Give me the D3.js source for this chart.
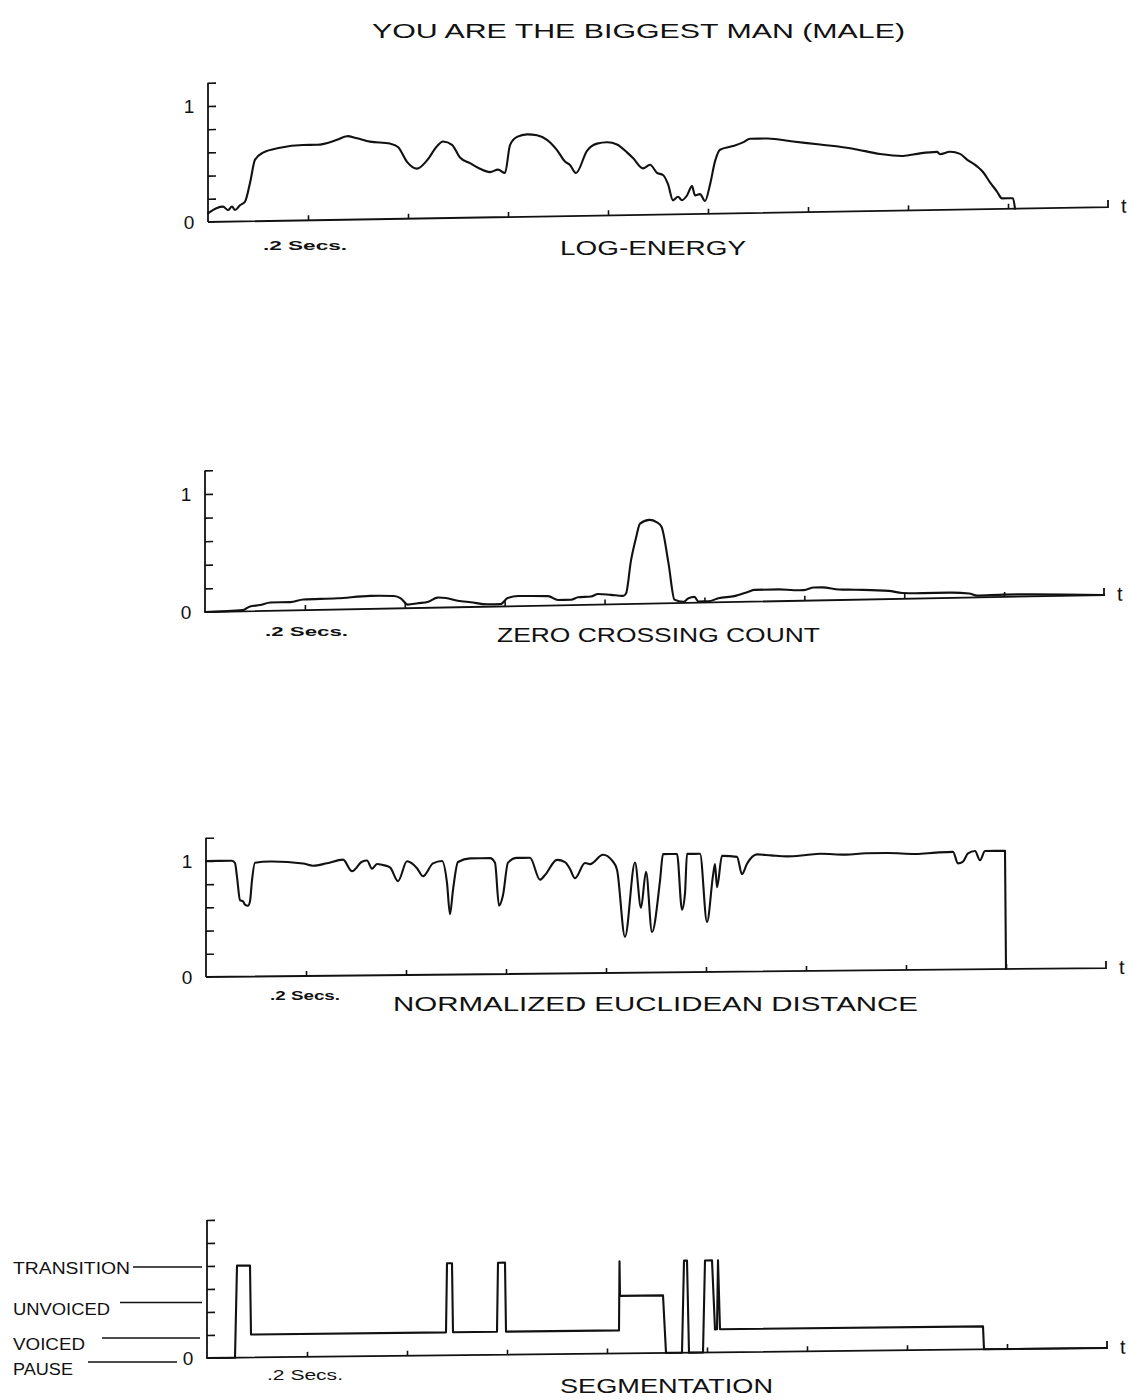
<!DOCTYPE html>
<html><head><meta charset="utf-8">
<script src="https://cdn.jsdelivr.net/npm/d3@7"></script>
<style>
body{margin:0;background:#fff}
svg{display:block}
text{font-family:"Liberation Sans",Arial,sans-serif;fill:#111}
</style>
</head><body>
<svg id="chart" width="1128" height="1400"></svg>
<script>
// ---------------- DATA ----------------
const chartTitle = "YOU ARE THE BIGGEST MAN (MALE)";
const panelTitles = ["LOG-ENERGY", "ZERO CROSSING COUNT", "NORMALIZED EUCLIDEAN DISTANCE", "SEGMENTATION"];
const timeUnitLabel = ".2 Secs.";
const timeAxisLabel = "t";
const timeDomain = [0, 1.8];
const timeTicks = [0.2, 0.4, 0.6, 0.8, 1.0, 1.2, 1.4, 1.6];
const valueDomain = [0, 1.2];
const valueTicks = [0.2, 0.4, 0.6, 0.8, 1.0, 1.2];
const valueTickLabels = [[0, "0"], [1, "1"]];
const segCategories = ["PAUSE", "VOICED", "UNVOICED", "TRANSITION"];
const segCategoryLevels = [0, 0.2, 0.5, 0.8];

// [time (s), value]
const logEnergy = [
 [0.000,0.075],[0.018,0.12],[0.030,0.13],[0.040,0.10],[0.048,0.13],[0.054,0.10],[0.064,0.14],[0.074,0.17],
 [0.084,0.33],[0.094,0.53],[0.110,0.59],[0.144,0.63],[0.190,0.65],[0.218,0.65],[0.258,0.69],[0.278,0.72],
 [0.298,0.70],[0.324,0.67],[0.364,0.65],[0.380,0.62],[0.398,0.49],[0.418,0.43],[0.438,0.50],[0.458,0.62],
 [0.470,0.66],[0.488,0.63],[0.504,0.52],[0.524,0.47],[0.544,0.42],[0.564,0.39],[0.580,0.41],[0.594,0.38],
 [0.604,0.62],[0.618,0.69],[0.638,0.71],[0.658,0.70],[0.678,0.66],[0.698,0.57],[0.714,0.47],[0.724,0.44],
 [0.736,0.37],[0.758,0.56],[0.778,0.62],[0.798,0.63],[0.818,0.61],[0.838,0.54],[0.850,0.49],[0.870,0.40],
 [0.884,0.43],[0.898,0.36],[0.910,0.34],[0.920,0.26],[0.930,0.12],[0.940,0.15],[0.948,0.12],[0.958,0.16],
 [0.968,0.24],[0.974,0.16],[0.984,0.17],[0.994,0.11],[1.004,0.25],[1.014,0.45],[1.024,0.55],[1.050,0.58],
 [1.070,0.61],[1.084,0.64],[1.118,0.64],[1.170,0.61],[1.224,0.58],[1.290,0.54],[1.344,0.49],[1.390,0.47],
 [1.424,0.49],[1.458,0.50],[1.464,0.48],[1.484,0.50],[1.504,0.48],[1.518,0.43],[1.538,0.37],[1.550,0.32],
 [1.564,0.23],[1.578,0.15],[1.588,0.09],[1.610,0.09],[1.614,0.0]
];
const zeroCrossing = [
 [0.000,0.00],[0.076,0.01],[0.090,0.04],[0.110,0.05],[0.131,0.07],[0.171,0.07],[0.197,0.09],[0.265,0.095],
 [0.331,0.11],[0.378,0.105],[0.392,0.085],[0.406,0.03],[0.426,0.04],[0.446,0.05],[0.466,0.085],[0.482,0.08],
 [0.506,0.055],[0.532,0.04],[0.566,0.02],[0.592,0.02],[0.606,0.07],[0.627,0.085],[0.687,0.08],[0.707,0.045],
 [0.733,0.045],[0.747,0.065],[0.773,0.07],[0.787,0.09],[0.813,0.08],[0.837,0.07],[0.843,0.09],[0.853,0.37],
 [0.863,0.56],[0.871,0.68],[0.890,0.71],[0.904,0.69],[0.914,0.65],[0.928,0.34],[0.940,0.03],[0.958,0.01],
 [0.968,0.04],[0.980,0.05],[0.988,0.01],[1.008,0.01],[1.028,0.035],[1.060,0.05],[1.088,0.085],[1.100,0.10],
 [1.149,0.10],[1.181,0.09],[1.199,0.09],[1.219,0.11],[1.235,0.11],[1.269,0.09],[1.301,0.085],[1.369,0.07],
 [1.396,0.05],[1.436,0.045],[1.490,0.045],[1.530,0.035],[1.546,0.015],[1.600,0.02],[1.800,0.0]
];
const euclidean = [
 [0.000,1.00],[0.052,1.00],[0.058,0.98],[0.062,0.86],[0.068,0.66],[0.074,0.65],[0.078,0.62],[0.084,0.61],
 [0.088,0.65],[0.092,0.83],[0.098,0.98],[0.128,0.99],[0.194,0.97],[0.214,0.95],[0.242,0.97],[0.274,1.00],
 [0.292,0.90],[0.312,0.98],[0.322,0.99],[0.332,0.92],[0.342,0.96],[0.354,0.95],[0.368,0.93],[0.384,0.81],
 [0.402,0.98],[0.422,0.92],[0.434,0.85],[0.454,0.96],[0.472,0.98],[0.482,0.79],[0.488,0.52],[0.494,0.73],
 [0.504,0.97],[0.528,1.00],[0.568,1.00],[0.578,0.96],[0.586,0.59],[0.594,0.68],[0.604,0.96],[0.622,1.00],
 [0.648,1.00],[0.668,0.81],[0.678,0.85],[0.702,0.98],[0.718,0.96],[0.728,0.90],[0.738,0.82],[0.758,0.95],
 [0.768,0.94],[0.794,1.02],[0.812,0.97],[0.822,0.89],[0.838,0.31],[0.858,0.95],[0.870,0.56],[0.880,0.87],
 [0.892,0.35],[0.908,0.79],[0.914,1.02],[0.942,1.02],[0.952,0.54],[0.958,0.68],[0.962,1.02],[0.988,1.02],
 [1.002,0.43],[1.014,0.83],[1.018,0.93],[1.022,0.73],[1.032,1.00],[1.062,0.99],[1.072,0.84],[1.082,0.93],
 [1.102,1.01],[1.130,1.00],[1.162,0.99],[1.200,1.00],[1.228,1.01],[1.280,1.00],[1.320,1.01],[1.362,1.01],
 [1.420,1.00],[1.460,1.01],[1.494,1.015],[1.504,0.915],[1.514,0.93],[1.524,1.00],[1.538,1.02],[1.548,0.94],
 [1.558,1.02],[1.598,1.02],[1.600,0.0]
];
const segmentation = [
 [0.000,0],[0.056,0],[0.060,0.8],[0.086,0.8],[0.088,0.2],[0.478,0.2],[0.480,0.8],[0.490,0.8],[0.492,0.2],
 [0.580,0.2],[0.582,0.8],[0.596,0.8],[0.598,0.2],[0.824,0.2],[0.825,0.8],[0.826,0.5],[0.912,0.5],[0.918,0],
 [0.950,0],[0.954,0.8],[0.960,0.8],[0.964,0],[0.992,0],[0.996,0.8],[1.010,0.8],[1.016,0.2],[1.020,0.2],
 [1.022,0.8],[1.026,0.2],[1.552,0.2],[1.554,0],[1.800,0]
];
const panelSeries = [logEnergy, zeroCrossing, euclidean, segmentation];

// ---------------- LAYOUT ----------------
const panels = [
 {x0:208, x1:1108, y0:222,  unit:116, skew:-0.95, smooth:true,  title:{x:560,w:186,y:255}, secs:{x:263,w:84,y:250,bold:true,fs:12}},
 {x0:205, x1:1104, y0:612,  unit:118, skew:-1.08, smooth:true,  title:{x:497,w:323,y:642}, secs:{x:265,w:83,y:636,bold:true,fs:12}},
 {x0:206, x1:1106, y0:977,  unit:116, skew:-0.57, smooth:true,  title:{x:393,w:525,y:1011}, secs:{x:270,w:70,y:1000,bold:true,fs:12}},
 {x0:207, x1:1107, y0:1358, unit:115, skew:-0.64, smooth:false, title:{x:560,w:213,y:1393}, secs:{x:267,w:76,y:1380,bold:false,fs:14}}
];

const svg = d3.select("#chart");
const ink = "#111";

svg.append("text").attr("x", 372).attr("y", 38)
  .attr("font-size", 20).attr("textLength", 533).attr("lengthAdjust", "spacingAndGlyphs")
  .text(chartTitle);

panels.forEach((p, i) => {
  const x = d3.scaleLinear().domain(timeDomain).range([p.x0, p.x1]);
  const y = d3.scaleLinear().domain(valueDomain).range([p.y0, p.y0 - p.unit * 1.2]);
  const g = svg.append("g")
    .attr("transform", `translate(${p.x0},${p.y0}) skewY(${p.skew}) translate(${-p.x0},${-p.y0})`);

  // y axis: vertical line with right-pointing ticks
  const ya = g.append("g").attr("transform", `translate(${p.x0},0)`)
    .call(d3.axisRight(y).tickValues(valueTicks).tickSize(8).tickFormat(""));
  ya.select(".domain").attr("d", `M0,${y(0)}V${y(1.2)}`).attr("stroke", ink).attr("stroke-width", 1.8);
  ya.selectAll(".tick line").attr("stroke", ink).attr("stroke-width", 1.6);

  // x axis: baseline with small upward ticks
  const xa = g.append("g").attr("transform", `translate(0,${p.y0})`)
    .call(d3.axisTop(x).tickValues(timeTicks).tickSize(5).tickFormat(""));
  xa.select(".domain").attr("d", `M${p.x0},0H${p.x1}V-7`).attr("stroke", ink).attr("stroke-width", 1.8).attr("fill", "none");
  xa.selectAll(".tick line").attr("stroke", ink).attr("stroke-width", 1.6);

  g.append("text").attr("x", p.x1 + 13).attr("y", p.y0 + 6).attr("font-size", 20).text(timeAxisLabel);

  // data line
  const line = d3.line().x(d => x(d[0])).y(d => y(d[1]))
    .curve(p.smooth ? d3.curveMonotoneX : d3.curveLinear);
  g.append("path").datum(panelSeries[i]).attr("d", line)
    .attr("fill", "none").attr("stroke", ink).attr("stroke-width", 2.1)
    .attr("stroke-linejoin", "round").attr("stroke-linecap", "round");

  // value labels
  if (i < 3) {
    valueTickLabels.forEach(([v, lab]) => {
      svg.append("text").attr("x", p.x0 - 19).attr("y", y(v) + 7)
        .attr("text-anchor", "middle").attr("font-size", 19).text(lab);
    });
  } else {
    svg.append("text").attr("x", p.x0 - 19).attr("y", y(0) + 7)
      .attr("text-anchor", "middle").attr("font-size", 19).text(valueTickLabels[0][1]);
  }

  // panel title and time unit label
  svg.append("text").attr("x", p.title.x).attr("y", p.title.y)
    .attr("font-size", 21).attr("textLength", p.title.w).attr("lengthAdjust", "spacingAndGlyphs")
    .text(panelTitles[i]);
  svg.append("text").attr("x", p.secs.x).attr("y", p.secs.y)
    .attr("font-size", p.secs.fs).attr("font-weight", p.secs.bold ? "bold" : "normal")
    .attr("textLength", p.secs.w).attr("lengthAdjust", "spacingAndGlyphs")
    .text(timeUnitLabel);

  // segmentation category labels
  if (i === 3) {
    const labPos = [
      {tx:13, tw:60,  lx1:88,  lx2:177, dy:4,  tdy:14},
      {tx:13, tw:72,  lx1:102, lx2:200, dy:3,  tdy:13},
      {tx:13, tw:97,  lx1:120, lx2:202, dy:2,  tdy:13},
      {tx:13, tw:117, lx1:133, lx2:202, dy:1,  tdy:8}
    ];
    segCategories.forEach((c, k) => {
      const ly = y(segCategoryLevels[k]) + labPos[k].dy;
      svg.append("line").attr("x1", labPos[k].lx1).attr("x2", labPos[k].lx2)
        .attr("y1", ly).attr("y2", ly).attr("stroke", ink).attr("stroke-width", 1.6);
      svg.append("text").attr("x", labPos[k].tx).attr("y", ly + labPos[k].tdy - 1)
        .attr("font-size", 16).attr("textLength", labPos[k].tw).attr("lengthAdjust", "spacingAndGlyphs")
        .text(c);
    });
  }
});
</script>
</body></html>
